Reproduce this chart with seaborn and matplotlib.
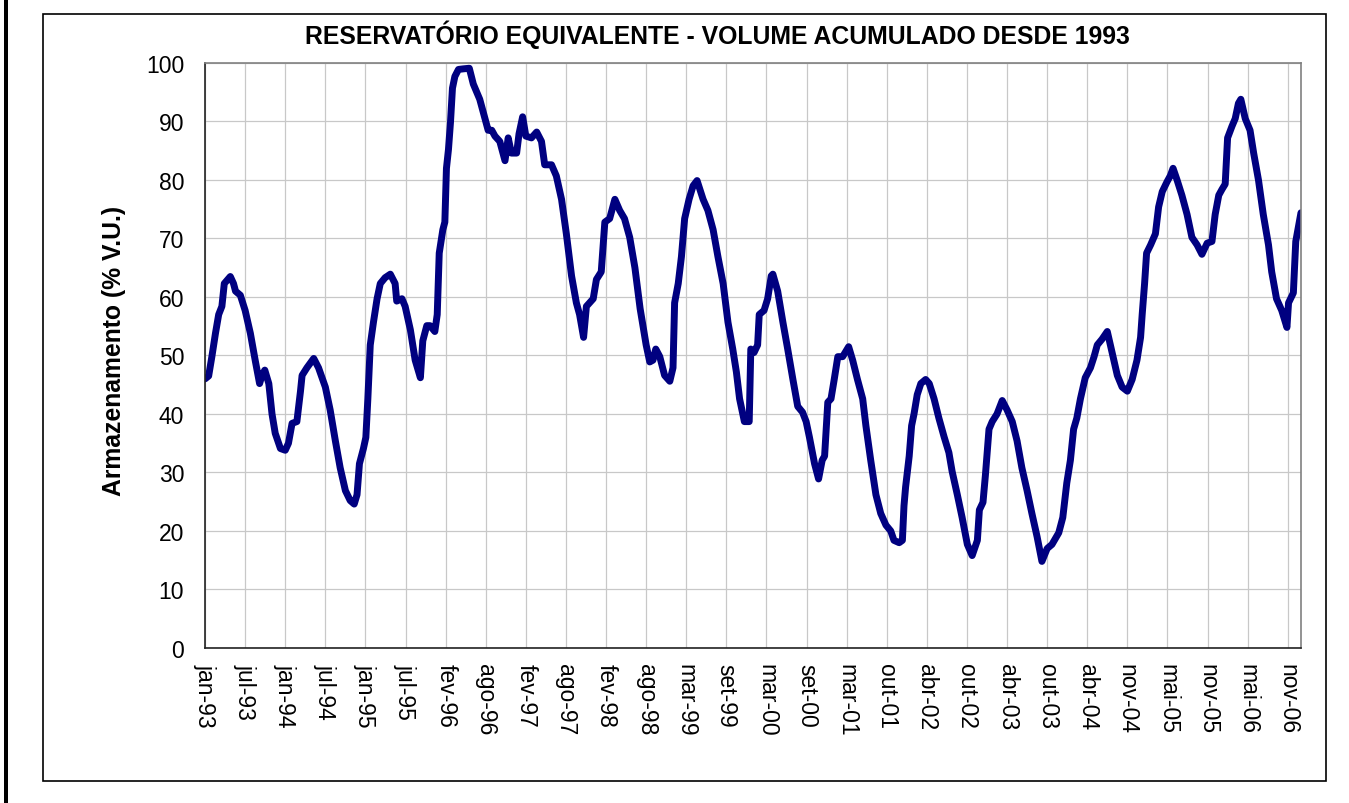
import numpy as np
import pandas as pd
import seaborn as sns
import matplotlib.pyplot as plt
from matplotlib.patches import Rectangle

# rotulos do eixo x (eixo de categorias do Excel, espacamento uniforme)
rotulos = ["jan-93", "jul-93", "jan-94", "jul-94", "jan-95", "jul-95", "fev-96",
           "ago-96", "fev-97", "ago-97", "fev-98", "ago-98", "mar-99", "set-99",
           "mar-00", "set-00", "mar-01", "out-01", "abr-02", "out-02", "abr-03",
           "out-03", "abr-04", "nov-04", "mai-05", "nov-05", "mai-06", "nov-06"]

# posicao ao longo do eixo (1 unidade = 1 intervalo entre rotulos)
posicao = [0.0, 0.09, 0.17, 0.26, 0.34, 0.42, 0.48, 0.63, 0.71, 0.76, 0.88, 1.0,
           1.13, 1.25, 1.36, 1.42, 1.49, 1.59, 1.67, 1.75, 1.88, 2.0, 2.08, 2.17,
           2.29, 2.38, 2.42, 2.54, 2.71, 2.83, 3.0, 3.12, 3.25, 3.37, 3.5, 3.62,
           3.72, 3.79, 3.85, 3.95, 4.01, 4.06, 4.12, 4.2, 4.29, 4.37, 4.49, 4.62,
           4.74, 4.78, 4.91, 4.99, 5.12, 5.24, 5.37, 5.43, 5.53, 5.61, 5.73, 5.79,
           5.84, 5.93, 5.98, 6.02, 6.07, 6.12, 6.17, 6.23, 6.32, 6.44, 6.59, 6.69,
           6.85, 6.98, 7.06, 7.15, 7.23, 7.35, 7.48, 7.56, 7.64, 7.77, 7.83, 7.92,
           8.0, 8.14, 8.27, 8.39, 8.47, 8.64, 8.76, 8.89, 9.01, 9.14, 9.26, 9.34,
           9.44, 9.51, 9.68, 9.76, 9.88, 9.97, 10.09, 10.22, 10.34, 10.46, 10.59,
           10.72, 10.85, 11.0, 11.09, 11.17, 11.24, 11.34, 11.46, 11.59, 11.67,
           11.71, 11.8, 11.88, 11.96, 12.07, 12.17, 12.27, 12.42, 12.54, 12.67,
           12.79, 12.92, 13.04, 13.16, 13.25, 13.33, 13.45, 13.57, 13.61, 13.69,
           13.78, 13.82, 13.94, 14.03, 14.12, 14.16, 14.28, 14.41, 14.53, 14.66,
           14.78, 14.9, 14.99, 15.07, 15.2, 15.3, 15.39, 15.45, 15.53, 15.61,
           15.69, 15.78, 15.9, 16.05, 16.15, 16.27, 16.4, 16.48, 16.6, 16.73,
           16.85, 16.98, 17.1, 17.18, 17.31, 17.39, 17.43, 17.47, 17.56, 17.62,
           17.68, 17.76, 17.85, 17.97, 18.06, 18.18, 18.3, 18.43, 18.55, 18.63,
           18.76, 18.88, 19.01, 19.13, 19.26, 19.31, 19.4, 19.46, 19.55, 19.63,
           19.75, 19.88, 20.0, 20.13, 20.25, 20.37, 20.5, 20.62, 20.75, 20.87,
           21.0, 21.12, 21.29, 21.39, 21.49, 21.58, 21.66, 21.74, 21.83, 21.95,
           22.08, 22.17, 22.25, 22.37, 22.5, 22.62, 22.75, 22.87, 23.0, 23.12,
           23.24, 23.33, 23.37, 23.43, 23.48, 23.58, 23.7, 23.78, 23.87, 23.99,
           24.07, 24.14, 24.24, 24.36, 24.49, 24.61, 24.74, 24.86, 24.99, 25.11,
           25.19, 25.28, 25.36, 25.44, 25.5, 25.61, 25.69, 25.77, 25.83, 25.94,
           26.06, 26.15, 26.27, 26.39, 26.52, 26.6, 26.72, 26.85, 26.98, 27.02,
           27.14, 27.2, 27.27, 27.33]

# armazenamento (% V.U.)
armazenamento = [46.0, 46.5, 49.8, 53.8, 57.0, 58.4, 62.3, 63.5, 62.3, 61.0, 60.3, 57.7,
                 53.8, 49.2, 45.2, 46.6, 47.5, 45.2, 40.0, 36.7, 34.1, 33.8, 35.0, 38.4,
                 38.7, 43.9, 46.6, 47.9, 49.5, 47.9, 44.6, 40.7, 35.4, 30.8, 26.9, 25.2,
                 24.6, 26.2, 31.5, 34.1, 36.0, 42.6, 51.8, 55.7, 59.7, 62.3, 63.3, 63.9,
                 62.3, 59.3, 59.7, 58.4, 54.4, 49.2, 46.2, 52.5, 55.1, 55.1, 54.1, 57.0,
                 67.5, 71.5, 72.8, 82.0, 85.2, 89.8, 95.7, 97.7, 98.9, 99.0, 99.1, 96.4,
                 93.8, 90.5, 88.5, 88.5, 87.5, 86.6, 83.3, 87.2, 84.6, 84.6, 87.9, 90.8,
                 87.5, 87.2, 88.2, 86.6, 82.6, 82.6, 80.7, 76.7, 70.8, 63.6, 59.0, 57.0,
                 53.1, 58.4, 59.7, 63.0, 64.3, 72.8, 73.4, 76.7, 74.8, 73.4, 70.2,
                 65.0, 58.0, 51.8, 48.9, 49.2, 51.1, 49.8, 46.6, 45.6, 47.9,
                 59.0, 62.3, 66.9, 73.4, 76.7, 79.0, 79.9, 76.7, 74.8, 71.5,
                 66.9, 62.3, 55.7, 51.1, 47.2, 42.6, 38.7, 38.7, 51.1, 50.5,
                 51.8, 57.0, 57.7, 59.7, 63.6, 63.9, 61.0, 55.7, 51.1, 45.9,
                 41.3, 40.3, 38.7, 36.1, 31.5, 28.9, 32.1, 32.8, 42.0, 42.6,
                 45.9, 49.8, 49.8, 51.5, 49.2, 45.9, 42.6, 38.0, 32.1, 26.2,
                 23.0, 21.0, 20.0, 18.4, 18.0, 18.4, 24.3, 27.5, 32.8, 38.0,
                 40.0, 43.3, 45.2, 45.9, 45.2, 42.6, 39.3, 36.1, 33.4, 30.2,
                 26.2, 22.3, 17.7, 15.8, 18.4, 23.6, 24.9, 29.5, 37.4, 38.7,
                 40.0, 42.3, 40.7, 38.7, 35.4, 30.8, 26.9, 23.0, 19.0, 14.8,
                 17.0, 17.7, 19.7, 22.3, 28.2, 32.1, 37.4, 39.3, 42.6, 46.2,
                 47.9, 49.8, 51.8, 52.8, 54.1, 50.5, 46.6, 44.6, 43.9, 45.9,
                 49.2, 53.1, 57.0, 62.3, 67.5, 68.9, 70.8, 75.4, 78.0, 79.7,
                 80.7, 82.0, 80.0, 77.4, 74.1, 70.2, 68.9, 67.3, 69.2, 69.5,
                 74.1, 77.4, 78.4, 79.3, 87.2, 89.2, 90.5, 93.1, 93.8, 90.5,
                 88.5, 84.6, 80.0, 74.1, 68.9, 64.3, 59.7, 57.7, 54.8, 59.0,
                 60.7, 69.5, 72.1, 74.4]

df = pd.DataFrame({"posicao": posicao, "armazenamento": armazenamento})

sns.set_style("white")
plt.rcParams["font.family"] = ["Liberation Sans", "DejaVu Sans"]
plt.rcParams["text.color"] = "black"
plt.rcParams["axes.labelcolor"] = "black"

fig = plt.figure(figsize=(13.49, 8.04), dpi=100)
ax = fig.add_axes([0.152, 0.1928, 0.8124, 0.7276])

sns.lineplot(data=df, x="posicao", y="armazenamento", color="#000080",
             linewidth=5, ax=ax)

ax.set_xlim(0, 27.33)
ax.set_ylim(0, 100)
ax.set_yticks(range(0, 101, 10))
ax.set_xticks(range(len(rotulos)))
ax.set_xticklabels(rotulos, rotation=270, ha="center", va="top")
ax.tick_params(axis="both", labelsize=16.5, colors="black", direction="out",
               length=6, width=1)
ax.tick_params(axis="y", pad=9)
ax.tick_params(axis="x", pad=5)
ax.grid(True, color="#c8c8c8", linewidth=0.9)
ax.set_axisbelow(True)

for lado in ["left", "bottom"]:
    ax.spines[lado].set_color("#222222")
    ax.spines[lado].set_linewidth(1.2)
for lado in ["top", "right"]:
    ax.spines[lado].set_color("#808080")
    ax.spines[lado].set_linewidth(1.2)

ax.set_xlabel("")
ax.set_ylabel("Armazenamento (% V.U.)", fontsize=17.8, fontweight="bold",
              color="black")
ax.yaxis.set_label_coords(-0.072, 0.51)

fig.text(0.5317, 0.9565, "RESERVATÓRIO EQUIVALENTE - VOLUME ACUMULADO DESDE 1993",
         ha="center", va="center", fontsize=17.8, fontweight="bold", color="black")

# moldura da area do grafico e barra preta na borda esquerda
fig.patches.append(Rectangle((0.0319, 0.0274), 0.951, 0.954, transform=fig.transFigure,
                             fill=False, edgecolor="black", linewidth=1.2))
fig.patches.append(Rectangle((0.003, 0.0), 0.0026, 1.0, transform=fig.transFigure,
                             facecolor="black", edgecolor="none"))

fig.savefig("out.png", dpi=100)
